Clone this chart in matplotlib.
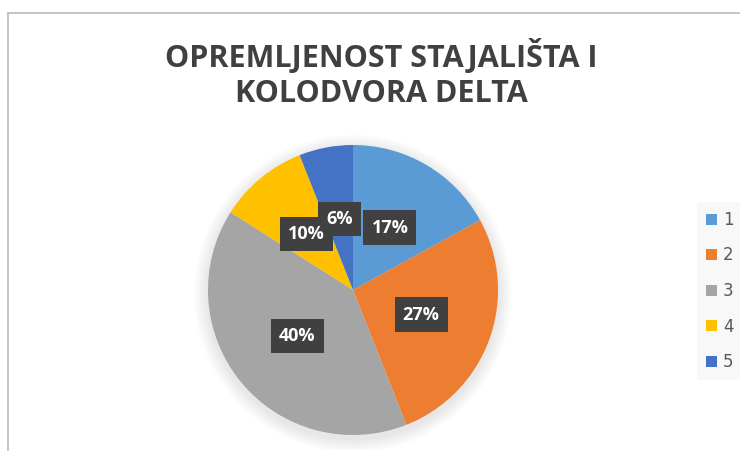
import matplotlib
matplotlib.use("Agg")
import matplotlib.pyplot as plt
from matplotlib.lines import Line2D
from matplotlib.patches import Circle, Patch

categories = ["1", "2", "3", "4", "5"]
shares = [17, 27, 40, 10, 6]
colors = ["#5B9BD5", "#ED7D31", "#A5A5A5", "#FFC000", "#4472C4"]
title = "OPREMLJENOST STAJALIŠTA I\nKOLODVORA DELTA"

W, H = 740, 451
fig = plt.figure(figsize=(W / 100, H / 100), dpi=100)

# chart frame (top and left edges visible)
fig.add_artist(Line2D([8 / W, 1], [1 - 12.5 / H] * 2, color="#bfbfbf", lw=1.3))
fig.add_artist(Line2D([8 / W] * 2, [0, 1 - 12.5 / H], color="#bfbfbf", lw=1.3))

fig.text(381 / W, 1 - 74 / H, title, ha="center", va="center",
         fontsize=22, fontweight="bold", family="Open Sans",
         color="#404040", linespacing=1.22)

# pie: centre (353, 290) px, radius 145 px
cx, cy, R = 353, 290, 145
box = 160
ax = fig.add_axes([(cx - box) / W, (H - cy - box) / H, 2 * box / W, 2 * box / H])

# soft shadow
for i in range(8):
    ax.add_patch(Circle((0, -0.025), 1 + 0.012 * (8 - i), color="black",
                        alpha=0.013, lw=0, zorder=0))

wedges, texts, autotexts = ax.pie(
    shares, colors=colors, startangle=90, counterclock=False,
    autopct="%1.0f%%", pctdistance=0.5, radius=1,
    wedgeprops=dict(linewidth=0),
    textprops=dict(color="white", fontsize=13, fontweight="bold",
                   family="Open Sans"))
# dark label boxes below, all label texts on top of every box
for t in autotexts:
    x, y = t.get_position()
    ax.text(x, y, t.get_text(), ha="center", va="center", fontsize=13,
            fontweight="bold", family="Open Sans", color="#404040", zorder=5,
            bbox=dict(boxstyle="square,pad=0.45", fc="#404040", ec="none"))
    t.set_zorder(6)

lim = box / R
ax.set_xlim(-lim, lim)
ax.set_ylim(-lim, lim)
ax.axis("off")

handles = [Patch(facecolor=c, edgecolor="none") for c in colors]
leg = fig.legend(handles, categories, loc="center left",
                 bbox_to_anchor=(697 / W, 1 - 291 / H),
                 fontsize=12, frameon=True, fancybox=False,
                 handlelength=0.65, handleheight=0.65, handletextpad=0.35,
                 labelspacing=1.05, borderpad=0.55, borderaxespad=0)
leg.get_frame().set_facecolor("#f7f7f7")
leg.get_frame().set_edgecolor("none")
for t in leg.get_texts():
    t.set_color("#595959")

fig.savefig("out.png", dpi=100)
